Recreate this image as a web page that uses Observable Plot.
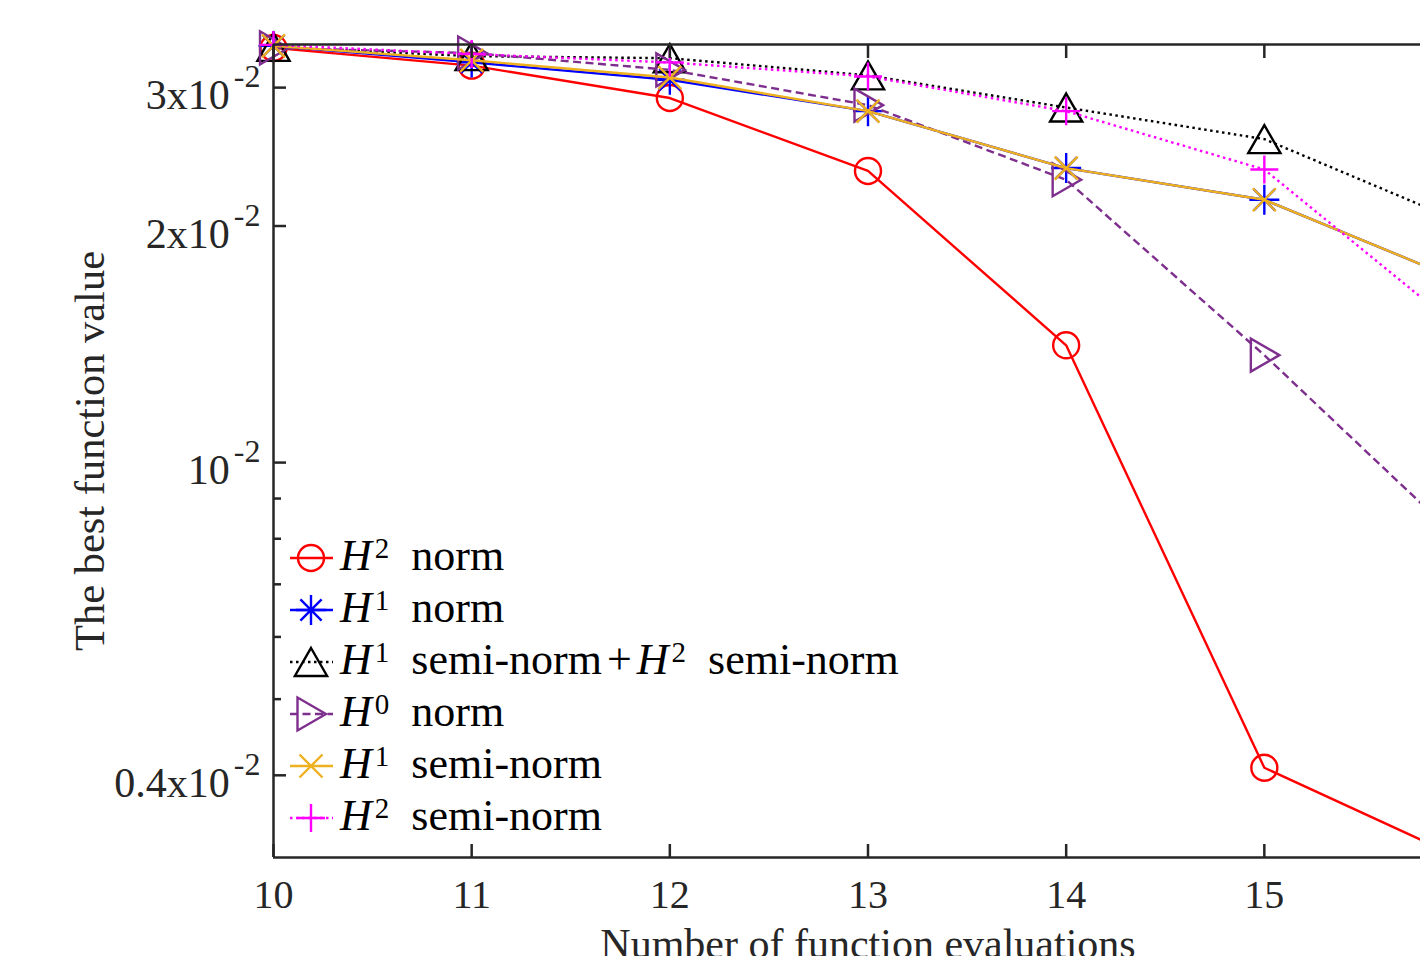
<!DOCTYPE html>
<html>
<head>
<meta charset="utf-8">
<script src="https://cdn.jsdelivr.net/npm/d3@7"></script>
<script src="https://cdn.jsdelivr.net/npm/@observablehq/plot@0.6"></script>
<style>
  html, body { margin: 0; padding: 0; background: #fff; overflow: hidden; width: 1420px; height: 956px; }
  #wrap { position: relative; width: 1420px; height: 956px; overflow: hidden; background: #fff; }
  #wrap > svg { max-width: none !important; width: 1462px !important; height: 956px !important; display: block; }
  #legend { position: absolute; left: 288px; top: 532px; font-family: "Liberation Serif", "Times New Roman", serif; font-size: 44px; color: #000; }
  #legend .row { height: 52px; display: flex; align-items: center; white-space: nowrap; }
  #legend .row svg { flex: none; }
  #legend .txt { margin-left: 6px; line-height: 52px; }
  #legend i { font-style: italic; }
  #legend sup { font-size: 29px; vertical-align: baseline; position: relative; top: -12px; margin-left: 3px; margin-right: 11px; }
  #legend .op { margin: 0 5px; }
</style>
</head>
<body>
<div id="wrap"></div>
<script>
// ---------------- data ----------------
const xValues = [10, 11, 12, 13, 14, 15, 16];
const h2Norm       = [0.0337, 0.0320, 0.0291, 0.0235, 0.0141, 0.00409, 0.00313];
const h1Norm       = [0.0339, 0.0323, 0.0307, 0.0280, 0.0237, 0.0216, 0.0170];
const h1SemiH2Semi = [0.0338, 0.0329, 0.0327, 0.0311, 0.0283, 0.0258, 0.0202];
const h0Norm       = [0.0337, 0.0332, 0.0316, 0.0285, 0.0229, 0.0137, 0.00791];
const h1Semi       = [0.0339, 0.0325, 0.0309, 0.0280, 0.0237, 0.0216, 0.0170];
const h2Semi       = [0.0340, 0.0331, 0.0323, 0.0310, 0.0280, 0.0236, 0.0147];

const seriesLabels = ["H^2 norm", "H^1 norm", "H^1 semi-norm+H^2 semi-norm", "H^0 norm", "H^1 semi-norm", "H^2 semi-norm"];
const xTicks = [10, 11, 12, 13, 14, 15, 16];
const yMajorTicks = [0.004, 0.01, 0.02, 0.03];
const yMajorLabels = ["0.4x10^-2", "10^-2", "2x10^-2", "3x10^-2"];
const yMinorTicks = [0.005, 0.006, 0.007, 0.008, 0.009];
const xLabel = "Number of function evaluations";
const yLabel = "The best function value";
const xDomain = [10, 16];
const yDomain = [0.003144, 0.03404];

// ---------------- marker shapes ----------------
const R = s => Math.sqrt(s / Math.PI);
const symCircle = { draw(c, s) { const r = R(s); c.moveTo(r, 0); c.arc(0, 0, r, 0, 2 * Math.PI); } };
const symAsterisk = { draw(c, s) { const r = R(s), d = r * 0.7071;
  c.moveTo(0, -r); c.lineTo(0, r); c.moveTo(-r, 0); c.lineTo(r, 0);
  c.moveTo(-d, -d); c.lineTo(d, d); c.moveTo(-d, d); c.lineTo(d, -d); } };
const symTriUp = { draw(c, s) { const r = R(s);
  c.moveTo(0, -r); c.lineTo(r * 1.15, r); c.lineTo(-r * 1.15, r); c.closePath(); } };
const symTriRight = { draw(c, s) { const r = R(s);
  c.moveTo(r, 0); c.lineTo(-r * 0.9, -r * 1.1); c.lineTo(-r * 0.9, r * 1.1); c.closePath(); } };
const symTimes = { draw(c, s) { const r = R(s);
  c.moveTo(-r, -r); c.lineTo(r, r); c.moveTo(-r, r); c.lineTo(r, -r); } };
const symPlus = { draw(c, s) { const r = R(s);
  c.moveTo(0, -r); c.lineTo(0, r); c.moveTo(-r, 0); c.lineTo(r, 0); } };

// ---------------- styles ----------------
const seriesStyle = [
  { values: h2Norm,       color: "#FF0000", dash: null,      symbol: symCircle,   r: 13 },
  { values: h1Norm,       color: "#0000FF", dash: null,      symbol: symAsterisk, r: 15 },
  { values: h1SemiH2Semi, color: "#000000", dash: "2.5,3.5", symbol: symTriUp,    r: 14 },
  { values: h0Norm,       color: "#7E2F8E", dash: "8,4.5",   symbol: symTriRight, r: 15 },
  { values: h1Semi,       color: "#EDB120", dash: null,      symbol: symTimes,    r: 11.5 },
  { values: h2Semi,       color: "#FF00FF", dash: "2.5,3.5", symbol: symPlus,     r: 14 }
];
const axisColor = "#262626";
const LW = 2.4;

// ---------------- plot ----------------
const marks = [];
seriesStyle.forEach(s => {
  const data = xValues.map((x, i) => ({ x, y: s.values[i] }));
  marks.push(Plot.line(data, { x: "x", y: "y", stroke: s.color, strokeWidth: LW,
    strokeDasharray: s.dash, strokeLinecap: "butt", strokeLinejoin: "miter", clip: true }));
  marks.push(Plot.dot(data, { x: "x", y: "y", symbol: s.symbol, r: s.r, stroke: s.color,
    strokeWidth: LW, fill: "none" }));
});

marks.push(
  Plot.ruleY([yDomain[0]], { stroke: axisColor, strokeWidth: 2.5 }),
  Plot.ruleY([yDomain[1]], { stroke: axisColor, strokeWidth: 2.5 }),
  Plot.ruleX([xDomain[0]], { stroke: axisColor, strokeWidth: 2.5 }),
  Plot.axisX({ anchor: "bottom", ticks: xTicks, tickSize: -13, tickFormat: () => "", label: null, stroke: axisColor, strokeWidth: 2.5 }),
  Plot.axisX({ anchor: "top", ticks: xTicks, tickSize: -13, tickFormat: () => "", label: null, stroke: axisColor, strokeWidth: 2.5 }),
  Plot.axisX({ anchor: "bottom", ticks: xTicks.filter(t => t < 16), tickSize: 0, tickPadding: 22, tickFormat: d => String(d), label: null, fontSize: 40, fill: axisColor }),
  Plot.axisY({ anchor: "left", ticks: yMajorTicks, tickSize: -13, tickFormat: () => "", label: null, stroke: axisColor, strokeWidth: 2.5 }),
  Plot.axisY({ anchor: "left", ticks: yMinorTicks, tickSize: -8, tickFormat: () => "", label: null, stroke: axisColor, strokeWidth: 2.5 }),
  Plot.axisY({ anchor: "left", ticks: yMajorTicks, tickSize: 0, tickPadding: 13, tickFormat: d => yMajorLabels[yMajorTicks.indexOf(d)], label: null, fontSize: 42, fill: axisColor }),
  Plot.text([xLabel], { frameAnchor: "bottom", textAnchor: "middle", dy: 100, lineAnchor: "bottom", fontSize: 42, fill: axisColor, text: d => d }),
  Plot.text([yLabel], { frameAnchor: "left", textAnchor: "middle", rotate: -90, dx: -170, lineAnchor: "bottom", fontSize: 42.5, fill: axisColor, text: d => d })
);

const chart = Plot.plot({
  width: 1462,
  height: 956,
  marginLeft: 273,
  marginRight: 0,
  marginTop: 44,
  marginBottom: 99,
  x: { domain: xDomain, label: null },
  y: { type: "log", domain: yDomain, label: null },
  style: { fontFamily: "'Liberation Serif', 'Times New Roman', serif", fontSize: "40px", color: axisColor, background: "#fff", overflow: "hidden", maxWidth: "none" },
  marks
});

// superscripts for the y tick labels
const svgNS = "http://www.w3.org/2000/svg";
chart.querySelectorAll('g[aria-label="y-axis tick label"] text').forEach(t => {
  const s = t.textContent;
  if (!s.includes("^")) return;
  const [base, exp] = s.split("^");
  t.textContent = base;
  t.setAttribute("y", "0.52em");
  const ts = document.createElementNS(svgNS, "tspan");
  ts.setAttribute("dy", "-22");
  ts.setAttribute("dx", "4");
  ts.setAttribute("font-size", "32");
  ts.textContent = exp;
  t.appendChild(ts);
});

const wrap = document.getElementById("wrap");
wrap.appendChild(chart);

// ---------------- legend ----------------
const legend = document.createElement("div");
legend.id = "legend";
seriesStyle.forEach((s, i) => {
  const row = document.createElement("div");
  row.className = "row";
  const sv = d3.create("svg").attr("width", 46).attr("height", 52);
  sv.append("line").attr("x1", 2).attr("x2", 45).attr("y1", 26).attr("y2", 26)
    .attr("stroke", s.color).attr("stroke-width", LW).attr("stroke-dasharray", s.dash)
    .attr("stroke-linecap", "butt");
  sv.append("path").attr("transform", "translate(23,26)")
    .attr("d", d3.symbol(s.symbol, s.r * s.r * Math.PI)())
    .attr("fill", "none").attr("stroke", s.color).attr("stroke-width", LW);
  row.appendChild(sv.node());
  const txt = document.createElement("span");
  txt.className = "txt";
  txt.innerHTML = seriesLabels[i]
    .replace(/\+/g, '<span class="op">+</span>')
    .replace(/H\^(\d)/g, "<i>H</i><sup>$1</sup>");
  row.appendChild(txt);
  legend.appendChild(row);
});
wrap.appendChild(legend);
</script>
</body>
</html>
